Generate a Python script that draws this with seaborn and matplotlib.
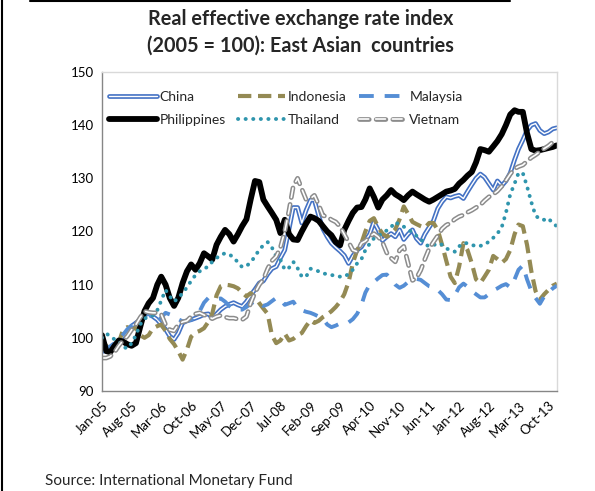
import matplotlib
matplotlib.use("Agg")
import matplotlib.pyplot as plt
import matplotlib.patheffects as pe
from matplotlib.lines import Line2D
import seaborn as sns
import pandas as pd

# monthly REER index, Jan-2005 .. Dec-2013
months = pd.date_range("2005-01-01", periods=108, freq="MS")

china = [97.5, 97.5, 98, 98.4, 99.3, 100.3, 101, 102.2, 102.8, 103.4, 104.2, 104.7,
         104, 103.4, 102.5, 101.6, 100.3, 99.7, 100.9, 102.8, 103.2, 103.4, 103.7, 104,
         104.4, 104.5, 103.75, 104.5, 105.3, 105.9, 106.3, 106.6, 106.2, 105.9, 106.8, 108,
         109.1, 110.3, 110.7, 112, 113, 113.4, 115, 116.5, 120.5, 124.5, 124.5, 121.6,
         124, 125.9, 125.9, 123, 120.5, 119, 117.8, 117, 116.3, 115.5, 114, 115.4,
         116.5, 117.1, 118.3, 119.5, 121.8, 120.3, 118.3, 119, 119.6, 119, 120.3, 118.5,
         119.5, 120.3, 118.7, 117.8, 119.5, 120.8, 122, 124.3, 125.6, 126.5, 126.3, 126.6,
         126.8, 126.2, 127.5, 128.8, 130, 130.8, 130.2, 129, 127.8, 129.5, 128.6, 129.5,
         131, 133.5, 135.5, 137.2, 139, 140, 140.3, 139, 138.4, 138.7, 139.3, 139.5]

indonesia = [99.2, 98.5, 97.8, 98.3, 99.1, 101.5, 102, 101.6, 101.9, 100.5, 100, 100.5,
             101.8, 102.2, 102.5, 101.3, 99.8, 98.8, 97.5, 95.9, 97.8, 100.2, 101, 101.3,
             101.8, 103, 104.5, 108, 109.7, 110, 109.9, 109.7, 109.3, 108.5, 107.8, 108.4,
             107.7, 106.5, 105.5, 104.5, 100.5, 99, 99.5, 100.8, 99.5, 99.8, 100.5, 100.9,
             102.2, 103.3, 102.8, 103.2, 103.9, 104.4, 105, 105.8, 106.8, 108.2, 110.5, 114,
             116.5, 117.8, 120, 122, 122.5, 120.8, 119.6, 119, 119.6, 120.4, 122.3, 124.7,
             123.3, 121.8, 121.4, 121, 120.7, 121.6, 121.6, 120.3, 117.5, 114.5, 111.5, 110.3,
             113.4, 117.8, 116.5, 114, 111, 110.3, 111.5, 112.8, 115.4, 114.8, 114.1, 114.8,
             116.5, 119.5, 121.3, 121, 117.5, 112.5, 108.8, 107.2, 108.2, 109, 109.8, 110.2]

malaysia = [97.5, 98, 98.4, 99, 99.7, 100.6, 101.6, 102.3, 102.8, 103.5, 104.2, 104.7,
            103.5, 102.8, 103.8, 104.7, 104.4, 104, 103.5, 103.1, 103.2, 103.4, 104, 105,
            106.6, 107.5, 107.5, 107.3, 107.4, 106.8, 106, 105.4, 105.3, 105.3, 105.8, 106.4,
            106.9, 106.6, 106, 106.3, 106.9, 107.5, 107.3, 106.2, 106.5, 106.8, 105.6, 105.2,
            104.9, 104.7, 104.4, 104, 103.6, 102.5, 102, 102.3, 102.7, 102.9, 102.9, 103.5,
            104.5, 106.2, 108.5, 110, 110.5, 111.2, 111.8, 111.9, 111, 110, 109.4, 109.8,
            110.5, 110.9, 111.1, 110.9, 110.3, 109.7, 109.5, 109, 108.2, 107.2, 107.1, 108,
            109.5, 110.2, 109.6, 108.8, 108.2, 107.6, 107.6, 108.2, 108.9, 109.3, 109.8, 110.1,
            109.5, 111, 112.8, 113.6, 111, 108.8, 107.5, 106.4, 107.8, 108.5, 109.3, 109.8]

philippines = [100.5, 97.5, 97.3, 98.5, 99.5, 99.3, 98.8, 98.5, 99, 102, 105, 106.5,
               107.5, 110, 111.5, 110, 107.5, 106, 107.5, 110.3, 112.5, 113.8, 112.8, 114,
               115.9, 115.3, 114.7, 117.5, 119, 120.3, 119.5, 118.1, 119.5, 121, 122.3, 126,
               129.5, 129.3, 126, 124.7, 123.5, 122.2, 119.7, 122.2, 119.5, 118.5, 118.4, 120,
               121.5, 122.8, 122.5, 122, 121, 120, 119.3, 118, 117.4, 120.3, 122, 123.5,
               124.5, 124.6, 126, 128.1, 126.5, 124.5, 126, 126.8, 127.8, 127, 126.5, 125.9,
               126.8, 127.5, 127, 126.5, 126, 125.6, 126, 126.5, 127, 127.5, 127.7, 128,
               129, 129.7, 130.5, 131.2, 133, 135.5, 135.3, 135, 136, 137, 138.3, 140,
               142, 142.8, 142.5, 142.5, 138.5, 135.5, 135.2, 135.3, 135.5, 135.7, 135.9, 136.2]

thailand = [100, 100.8, 100.3, 99.7, 99.4, 98.3, 98, 99, 100.5, 102.5, 103.6, 104,
            104.2, 105.2, 107, 109, 107.8, 106.8, 107.5, 108.4, 109.5, 110.7, 111.8, 112.5,
            113, 113.4, 114.3, 115, 115.6, 115.9, 115.7, 115.1, 114.2, 113.3, 113.5, 114.2,
            115.3, 116.6, 117.4, 118, 117, 115.3, 114.7, 112.8, 113.2, 114.3, 113.1, 111.5,
            111.5, 113, 112.8, 112.5, 112.1, 112, 111.8, 111.7, 111.5, 111.5, 112, 112.8,
            114, 114.8, 116.5, 117.7, 118.7, 119.2, 119.6, 120.2, 120.8, 121.8, 121.2, 120.9,
            120.4, 119.8, 119.2, 118.6, 117.6, 117.2, 117.4, 117.8, 117.5, 116.8, 116.5, 116.2,
            117.2, 117.8, 117.8, 117.5, 117.2, 117.3, 117.5, 118.1, 118.8, 119.6, 120.8, 123.5,
            127, 129, 131, 131, 128.5, 125.5, 123, 122.3, 122.2, 122.5, 121.5, 121]

vietnam = [96.2, 96.2, 96.5, 97.3, 98.5, 99.5, 100.3, 101.5, 102.5, 103.8, 105, 104.8,
           104.7, 104.7, 104.4, 102.5, 101.5, 101.3, 102.5, 103, 103.2, 104, 104.5, 104.7,
           104.3, 104, 103.6, 104, 104.2, 103.9, 103.7, 103.7, 103.5, 103.4, 104, 106.5,
           108.5, 110, 111, 113, 114.5, 115.3, 117, 120, 124, 128.5, 130, 128,
           126, 126.2, 126.8, 125, 123, 122.8, 122.2, 121.8, 120.9, 119.5, 118, 116.5,
           116.2, 117.8, 118.2, 119, 119.6, 119, 118, 116, 115, 114.3, 116.5, 117.2,
           114, 110.8, 111.2, 112.7, 114.8, 116.8, 118, 119.2, 120.5, 121.2, 121.6, 122.3,
           122.8, 123.1, 123.6, 124, 124.5, 125, 125.8, 126.5, 127, 127.6, 128.5, 129.6,
           130.8, 131.8, 132.2, 132.5, 133.2, 133.9, 134.4, 135, 135.6, 136.1, 136.8, 137.2]

tick_dates = months[::7]
tick_labels = [d.strftime("%b-%y") for d in tick_dates]

sns.set_style("white")
plt.rcParams["font.family"] = ["Lato", "DejaVu Sans"]

fig = plt.figure(figsize=(5.95, 4.91), dpi=100)
ax = fig.add_axes([0.1714, 0.2037, 0.7646, 0.6497])

# China: blue double line
sns.lineplot(x=months, y=china, ax=ax, color="white", lw=1.0, label="China",
             path_effects=[pe.Stroke(linewidth=3.4, foreground="#4472C4"), pe.Normal()])
sns.lineplot(x=months, y=indonesia, ax=ax, color="#948A54", lw=3.0, label="Indonesia",
             linestyle=(0, (3.2, 1.6)))
sns.lineplot(x=months, y=malaysia, ax=ax, color="#558ED5", lw=2.8, label="Malaysia",
             linestyle=(0, (3.8, 2.8)))
sns.lineplot(x=months, y=philippines, ax=ax, color="black", lw=4.2, label="Philippines")
sns.lineplot(x=months, y=thailand, ax=ax, color="#2F95AD", lw=2.8, label="Thailand",
             linestyle=(0, (0.05, 1.9)), dash_capstyle="round")

# Vietnam: hollow grey dashes (grey dashed line with a thinner white one on top)
vn_dash, vn_gap = 7.0, 5.0
sns.lineplot(x=months, y=vietnam, ax=ax, color="#8C8C8C", lw=3.4, label="Vietnam",
             linestyle=(0, (vn_dash / 3.4, vn_gap / 3.4)), dash_capstyle="round")
sns.lineplot(x=months, y=vietnam, ax=ax, color="white", lw=1.2, label="_vn_inner",
             linestyle=(0, (vn_dash / 1.2, vn_gap / 1.2)), dash_capstyle="round")

ax.set_ylim(90, 150)
ax.set_yticks(range(90, 151, 10))
ax.set_xlim(months[0], months[-1])
ax.set_xticks(tick_dates)
ax.set_xticklabels(tick_labels, rotation=45, ha="right", rotation_mode="anchor")
ax.tick_params(axis="both", labelsize=9.5, colors="black", length=4, direction="out")
ax.tick_params(axis="x", pad=2)
ax.tick_params(axis="y", pad=2)
ax.set_xlabel("")
ax.set_ylabel("")
for side in ["left", "bottom"]:
    ax.spines[side].set_color("#868686")
    ax.spines[side].set_linewidth(1.0)
for side in ["top", "right"]:
    ax.spines[side].set_color("#D9D9D9")
    ax.spines[side].set_linewidth(1.0)

lines = ax.get_lines()
hmap = {ln.get_label(): ln for ln in lines}
vn_handle = (hmap["Vietnam"], hmap["_vn_inner"])
order = ["China", "Philippines", "Indonesia", "Thailand", "Malaysia", "Vietnam"]
handles = [vn_handle if k == "Vietnam" else hmap[k] for k in order]
ax.legend(handles, order, ncol=3, frameon=False, fontsize=10,
          loc="upper left", bbox_to_anchor=(-0.005, 0.97), handlelength=3.4,
          handletextpad=0.2, columnspacing=0.9, labelspacing=0.75, borderaxespad=0.3)

fig.text(0.505, 0.962, "Real effective exchange rate index", ha="center", va="center",
         fontsize=14.3, fontweight="bold")
fig.text(0.505, 0.908, "(2005 = 100): East Asian  countries", ha="center", va="center",
         fontsize=14.3, fontweight="bold")
fig.text(0.076, 0.02, "Source: International Monetary Fund", ha="left", va="center",
         fontsize=11)

# frame fragments visible in the screenshot
fig.add_artist(Line2D([0.003, 0.003], [0, 1], color="black", lw=1.5))
fig.add_artist(Line2D([0.05, 0.857], [0.998, 0.998], color="black", lw=1.5))

fig.savefig("out.png", dpi=100)
